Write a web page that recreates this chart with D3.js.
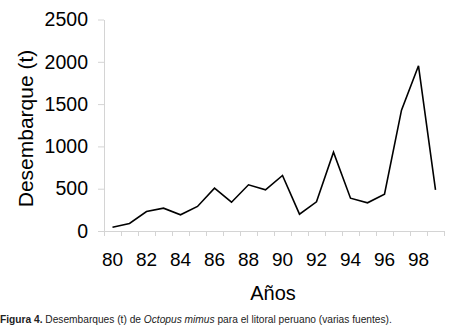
<!DOCTYPE html>
<html>
<head>
<meta charset="utf-8">
<script src="https://cdn.jsdelivr.net/npm/d3@7"></script>
<style>
  body { margin: 0; background: #fff; }
  svg { display: block; font-family: "Liberation Sans", Arial, sans-serif; }
  .axis path, .axis line { stroke: #d4d4d4; }
</style>
</head>
<body>
<svg width="450" height="334"></svg>
<script>
// data
const years = ["80","81","82","83","84","85","86","87","88","89","90","91","92","93","94","95","96","97","98","99"];
const landings = [45, 89, 230, 270, 191, 290, 506, 340, 546, 487, 656, 199, 345, 931, 388, 333, 435, 1428, 1953, 487];
const yTicks = [0, 500, 1000, 1500, 2000, 2500];
const xLabels = ["80","82","84","86","88","90","92","94","96","98"];

const svg = d3.select("svg"),
      plotLeft = 104, plotRight = 444, plotTop = 19.5, plotBottom = 231;

const x = d3.scaleBand().domain(years).range([plotLeft, plotRight]).padding(0); // categories
const y = d3.scaleLinear().domain([0, 2500]).range([plotBottom, plotTop]);

// y axis
const yAxis = svg.append("g")
  .attr("class", "axis")
  .attr("transform", `translate(${plotLeft},0)`)
  .call(d3.axisLeft(y).tickValues(yTicks).tickFormat(d3.format("d")).tickSize(6).tickSizeOuter(0).tickPadding(10));
yAxis.selectAll("text").style("font-size", "19.5px").attr("fill", "#000");

// x axis: ticks at category boundaries
const xb = d3.scaleLinear().domain([0, years.length]).range([plotLeft, plotRight]);
svg.append("g")
  .attr("class", "axis")
  .attr("transform", `translate(0,${plotBottom})`)
  .call(d3.axisBottom(xb).tickValues(d3.range(0, years.length + 1)).tickSize(5).tickSizeOuter(0).tickFormat(""));

// x labels every second year
svg.append("g")
  .selectAll("text")
  .data(xLabels)
  .join("text")
  .attr("x", d => x(d) + x.bandwidth() / 2)
  .attr("y", 266)
  .attr("text-anchor", "middle")
  .style("font-size", "19px")
  .text(d => d);

// axis titles
svg.append("text")
  .attr("transform", "translate(33,128.5) rotate(-90)")
  .attr("text-anchor", "middle")
  .style("font-size", "21px")
  .text("Desembarque (t)");

svg.append("text")
  .attr("x", 273)
  .attr("y", 300)
  .attr("text-anchor", "middle")
  .style("font-size", "20px")
  .text("Años");

// line
const line = d3.line()
  .x((d, i) => x(years[i]) + x.bandwidth() / 2)
  .y(d => y(d));

svg.append("path")
  .datum(landings)
  .attr("fill", "none")
  .attr("stroke", "#000")
  .attr("stroke-width", 1.6)
  .attr("d", line);

// caption
const cap = svg.append("text")
  .attr("x", 0)
  .attr("y", 323)
  .style("font-size", "10.2px")
  .attr("fill", "#222");
cap.append("tspan").style("font-weight", "bold").text("Figura 4.");
cap.append("tspan").text(" Desembarques (t) de ");
cap.append("tspan").style("font-style", "italic").text("Octopus mimus");
cap.append("tspan").text(" para el litoral peruano (varias fuentes).");
</script>
</body>
</html>
